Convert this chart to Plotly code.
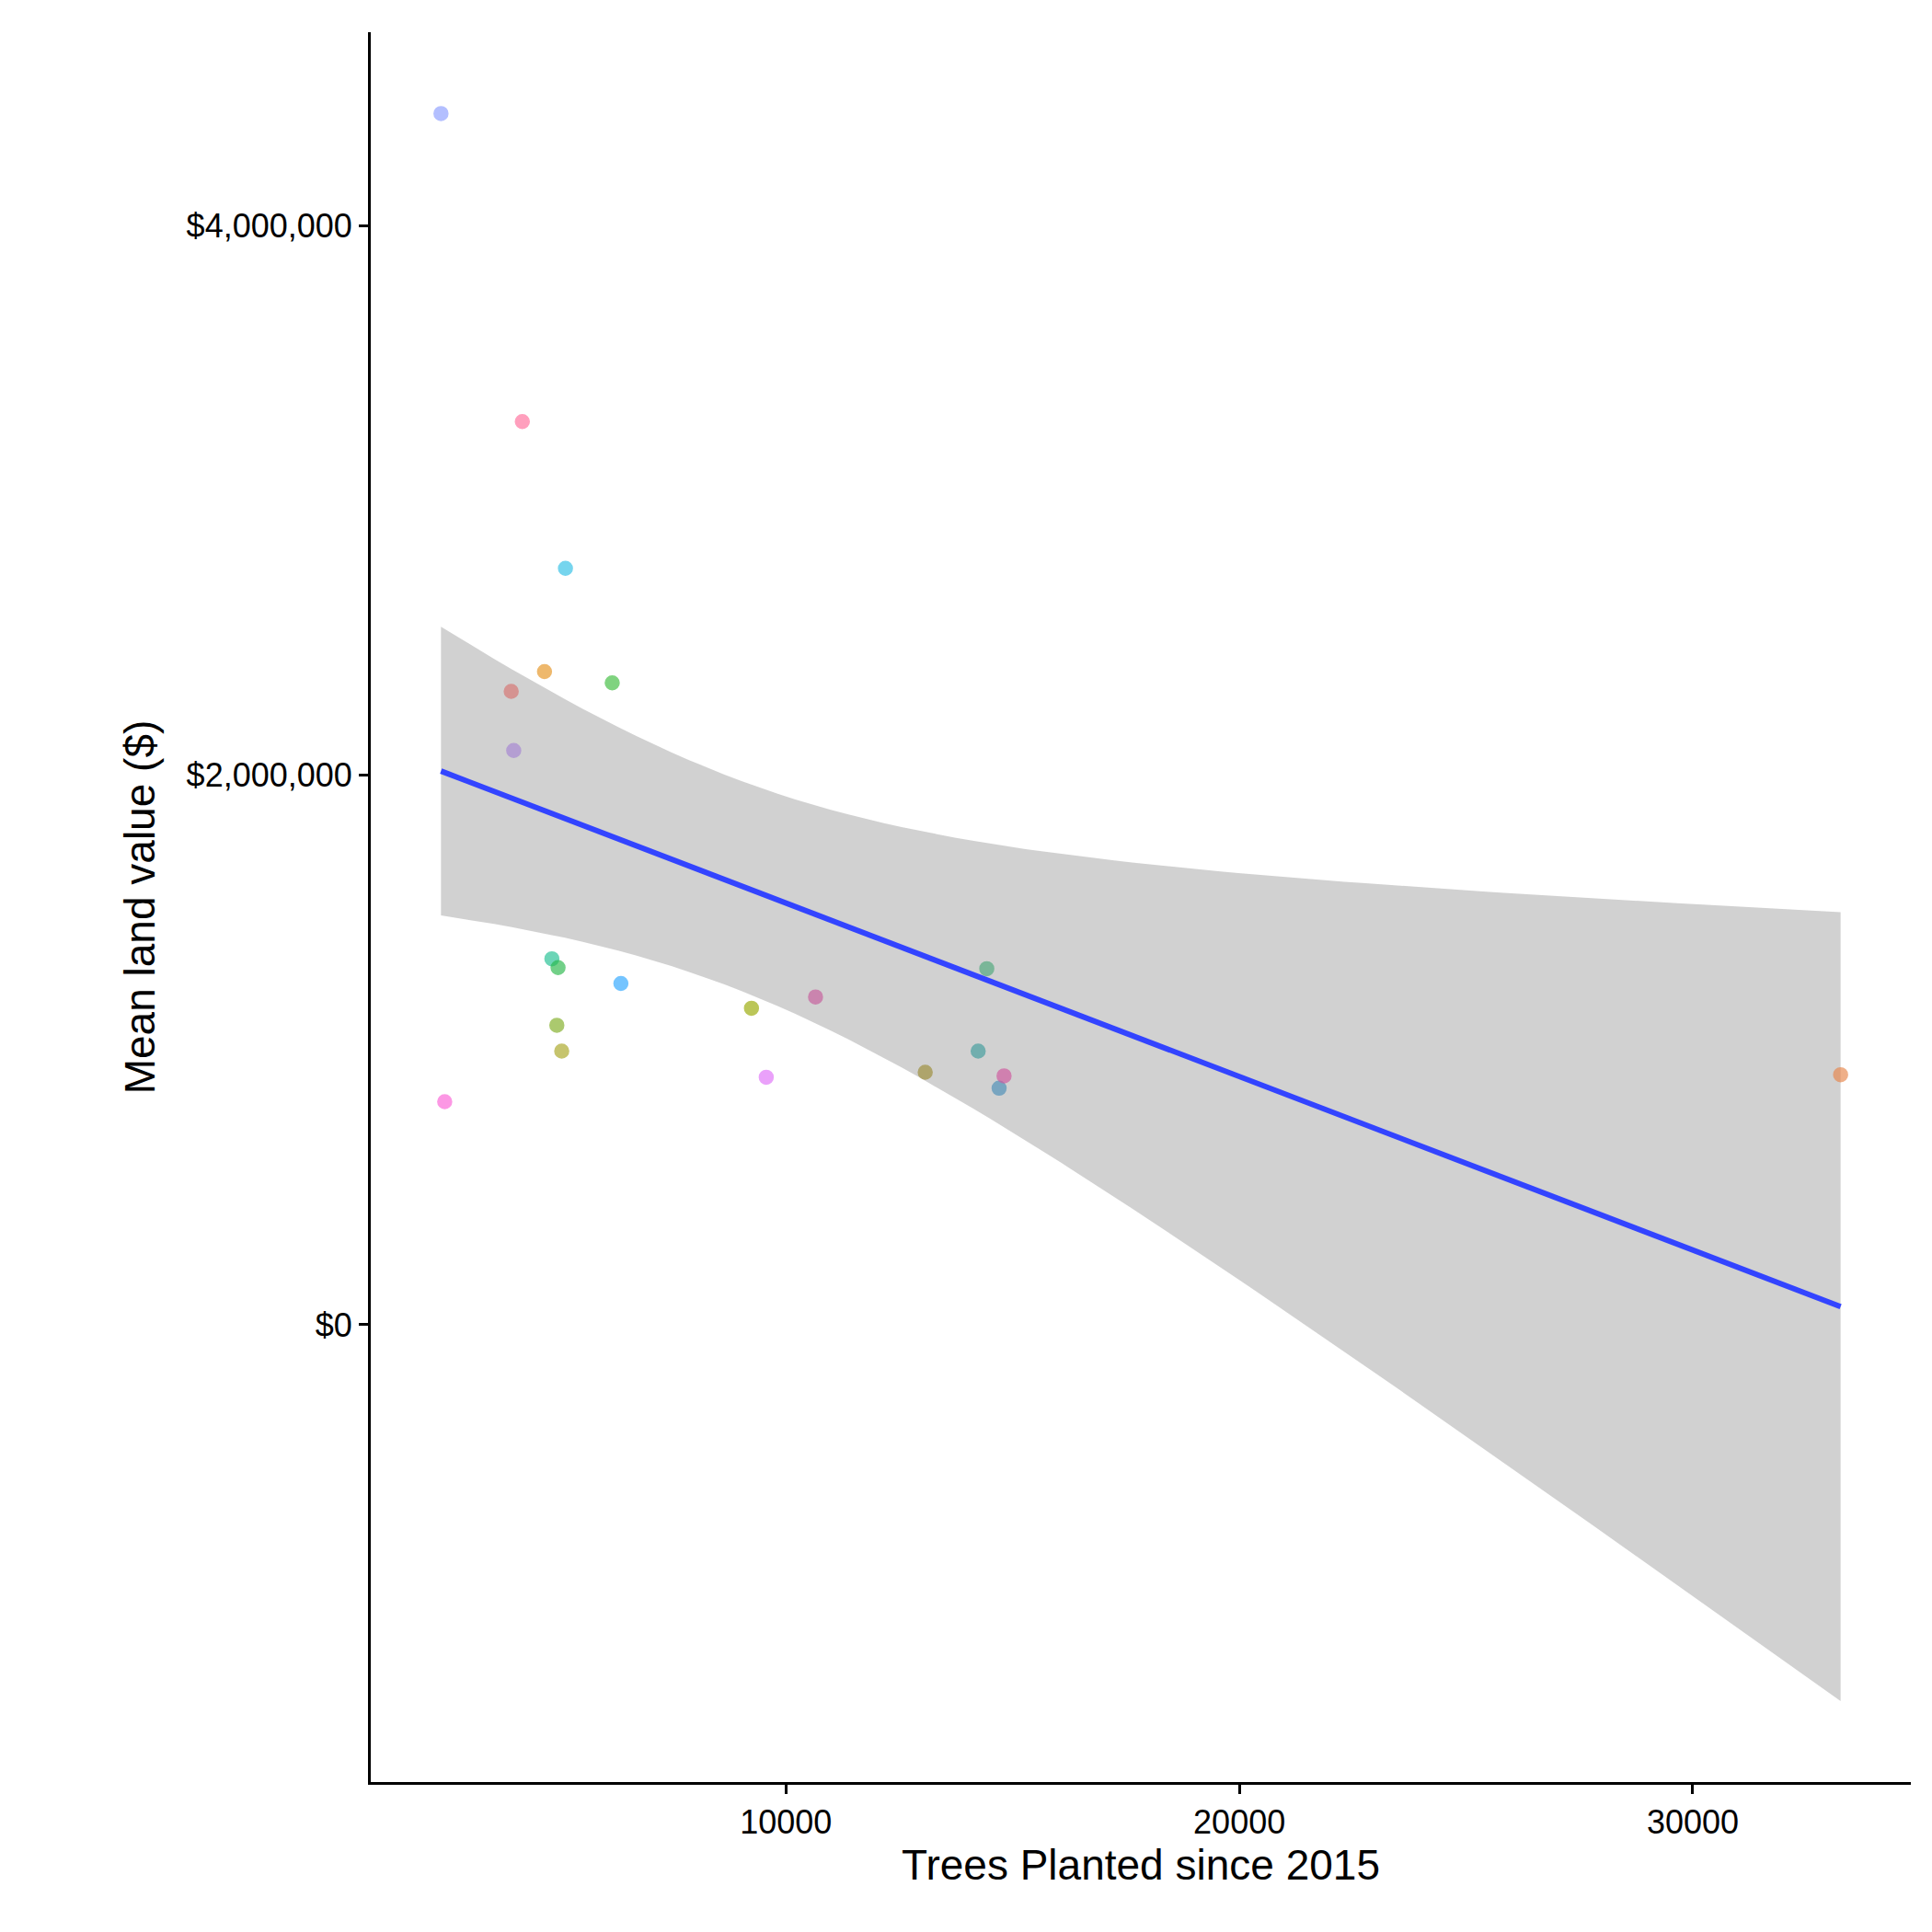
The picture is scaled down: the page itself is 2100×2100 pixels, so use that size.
import numpy as np
import plotly.graph_objects as go

trees = [2391, 4185, 5136, 4674, 3940, 6168, 3995, 4837, 4973, 6359, 4946,
         5054, 2473, 9239, 10652, 9565, 13071, 14239, 14429, 14701, 14810, 33261]
land_value = [4408000, 3287000, 2753000, 2377000, 2305000, 2336000, 2090000,
              1332000, 1300000, 1242000, 1090000, 996000, 812000, 1152000,
              1193000, 901000, 919000, 996000, 1296000, 861000, 906000, 910000]
colors = ["#8c9dff", "#ff6c9a", "#2ebfe6", "#e5931f", "#d87270", "#3cbd3c",
          "#a584d4", "#1fc091", "#28b84a", "#2aa6ff", "#7fad22", "#a8a520",
          "#fb61d7", "#97a800", "#c75c9c", "#df70f8", "#9c8d36", "#3e9c9c",
          "#4ca87a", "#4a8fb8", "#d0569e", "#e8854a"]
x_ticks = [10000, 20000, 30000]
x_labels = ["10000", "20000", "30000"]
y_ticks = [0, 2000000, 4000000]
y_labels = ["$0", "$2,000,000", "$4,000,000"]

x = np.array(trees, dtype=float)
y = np.array(land_value, dtype=float)
n = len(x)
b, a = np.polyfit(x, y, 1)
resid = y - (a + b * x)
s = np.sqrt((resid ** 2).sum() / (n - 2))
sxx = ((x - x.mean()) ** 2).sum()
xs = np.linspace(x.min(), x.max(), 80)
fit = a + b * xs
se = s * np.sqrt(1 / n + (xs - x.mean()) ** 2 / sxx)
t = 2.086
lo, hi = fit - t * se, fit + t * se

fig = go.Figure()
fig.add_trace(go.Scatter(x=np.concatenate([xs, xs[::-1]]), y=np.concatenate([hi, lo[::-1]]),
                         fill="toself", fillcolor="rgba(153,153,153,0.45)",
                         line=dict(width=0), mode="lines", hoverinfo="skip"))
fig.add_trace(go.Scatter(x=trees, y=land_value, mode="markers",
                         marker=dict(color=colors, size=15, opacity=0.65,
                                     line=dict(width=1.5, color=colors))))
fig.add_trace(go.Scatter(x=xs, y=fit, mode="lines", line=dict(color="#3344ff", width=6)))

fig.update_layout(
    width=2100, height=2100, showlegend=False,
    paper_bgcolor="white", plot_bgcolor="white",
    margin=dict(l=395, r=31, t=27, b=171),
    font=dict(family="Liberation Sans, Arial", size=36, color="black"),
)
fig.update_xaxes(range=[842, 34810], tickmode="array", tickvals=x_ticks, ticktext=x_labels,
                 tickfont=dict(size=36, color="black"), showgrid=False,
                 zeroline=False, showline=True, linecolor="black", linewidth=3,
                 ticks="outside", ticklen=10, tickwidth=3, tickcolor="black",
                 title=dict(text="Trees Planted since 2015", font=dict(size=46), standoff=10))
fig.update_yaxes(range=[-1664000, 4704000], tickmode="array", tickvals=y_ticks, ticktext=y_labels,
                 tickfont=dict(size=36, color="black"), showgrid=False, zeroline=False,
                 showline=True, linecolor="black", linewidth=3,
                 ticks="outside", ticklen=10, tickwidth=3, tickcolor="black",
                 title=dict(text="Mean land value ($)", font=dict(size=46), standoff=20))
fig.write_html("out.html")
